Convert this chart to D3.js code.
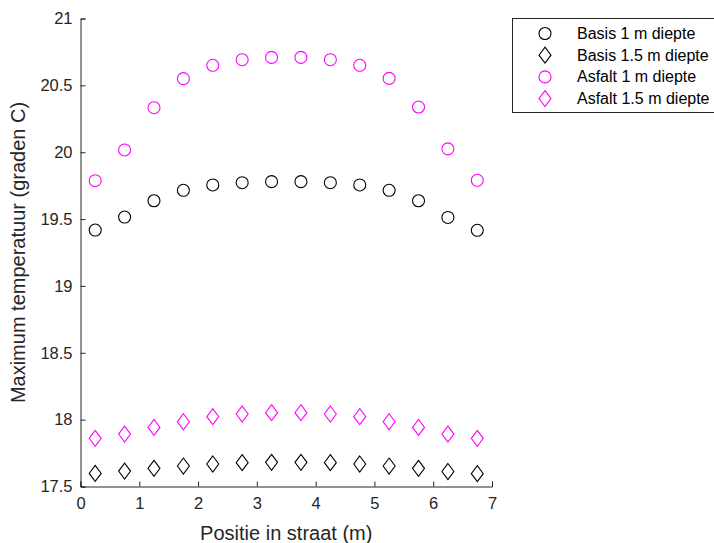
<!DOCTYPE html>
<html><head><meta charset="utf-8">
<script src="https://cdn.jsdelivr.net/npm/d3@7"></script>
<style>body{margin:0;background:#fff}svg{display:block;font-family:"Liberation Sans",Arial,sans-serif}</style>
</head><body><svg id="c" width="714" height="543"></svg>
<script>
const positions = [0.25,0.75,1.25,1.75,2.25,2.75,3.25,3.75,4.25,4.75,5.25,5.75,6.25,6.75];
const basis1 = [19.418,19.515,19.637,19.715,19.755,19.772,19.780,19.780,19.772,19.755,19.715,19.637,19.512,19.416];
const basis15 = [17.598,17.615,17.636,17.653,17.668,17.678,17.681,17.681,17.678,17.668,17.653,17.636,17.612,17.596];
const asfalt1 = [19.787,20.017,20.333,20.550,20.650,20.692,20.709,20.709,20.692,20.650,20.552,20.338,20.025,19.790];
const asfalt15 = [17.860,17.892,17.942,17.984,18.022,18.042,18.052,18.052,18.042,18.022,17.984,17.942,17.892,17.860];
const xTicks = [0,1,2,3,4,5,6,7];
const yTicks = [17.5,18,18.5,19,19.5,20,20.5,21];
const seriesNames = ["Basis 1 m diepte","Basis 1.5 m diepte","Asfalt 1 m diepte","Asfalt 1.5 m diepte"];
const seriesValues = [basis1, basis15, asfalt1, asfalt15];
const seriesShapes = ["circle","diamond","circle","diamond"];
const seriesColors = ["#000000","#000000","#ff00ff","#ff00ff"];

const svg = d3.select("#c");
const L=80.5, R=492, T=18.5, B=486.5;
const x = d3.scaleLinear().domain([0,7]).range([L,R]);
const y = d3.scaleLinear().domain([17.5,21]).range([B,T]);
const axisColor="#262626";
const FONT="'Liberation Sans',Arial,sans-serif";

function marker(g, shape, color){
  if(shape==="circle"){
    g.append("circle").attr("r",6).attr("fill","none").attr("stroke",color).attr("stroke-width",1.1);
  } else {
    g.append("path").attr("d","M0,-8L6,0L0,8L-6,0Z").attr("fill","none").attr("stroke",color).attr("stroke-width",1.1);
  }
}

// axes
const xa = svg.append("g").attr("transform",`translate(0,${B})`)
  .call(d3.axisBottom(x).tickValues(xTicks).tickSize(-5).tickPadding(11).tickFormat(d3.format("d")));
const ya = svg.append("g").attr("transform",`translate(${L},0)`)
  .call(d3.axisLeft(y).tickValues(yTicks).tickSize(-5).tickPadding(8).tickFormat(d=>String(d)));
[xa,ya].forEach(a=>{
  a.select(".domain").attr("stroke",axisColor).attr("stroke-width",1);
  a.selectAll(".tick line").attr("stroke",axisColor);
  a.selectAll(".tick text").attr("fill",axisColor).style("font-size","16.5px").style("font-family",FONT);
});

svg.append("text").attr("x",(L+R)/2).attr("y",540).attr("text-anchor","middle")
  .attr("fill",axisColor).style("font-size","20px").text("Positie in straat (m)");
svg.append("text").attr("transform",`translate(25,${(T+B)/2}) rotate(-90)`).attr("text-anchor","middle")
  .attr("fill",axisColor).style("font-size","20px").text("Maximum temperatuur (graden C)");

// data
seriesValues.forEach((vals,i)=>{
  vals.forEach((v,j)=>{
    const g = svg.append("g").attr("transform",`translate(${x(positions[j])},${y(v)})`);
    marker(g, seriesShapes[i], seriesColors[i]);
  });
});

// legend
svg.append("rect").attr("x",512.5).attr("y",18.5).attr("width",210).attr("height",94)
  .attr("fill","#fff").attr("stroke",axisColor).attr("stroke-width",1);
seriesNames.forEach((n,i)=>{
  const cy = 33.5 + i*21.7;
  const g = svg.append("g").attr("transform",`translate(545,${cy})`);
  marker(g, seriesShapes[i], seriesColors[i]);
  svg.append("text").attr("x",577).attr("y",cy+5.5).attr("fill","#000").style("font-size","16px").text(n);
});
</script></body></html>
